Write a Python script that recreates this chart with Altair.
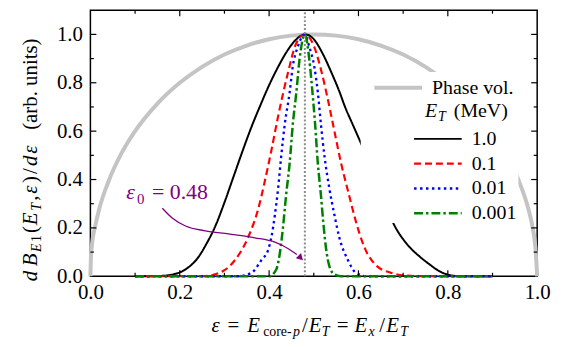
import altair as alt
import pandas as pd

FONT = "Liberation Serif, Times New Roman, Times, serif"

# ---------------- values ----------------
phase_eps = [0.0, 0.001, 0.004, 0.01, 0.02, 0.04, 0.07, 0.1, 0.15, 0.2, 0.25, 0.3, 0.35, 0.4, 0.45,
             0.5, 0.55, 0.6, 0.65, 0.7, 0.75, 0.8, 0.85, 0.9, 0.93, 0.96, 0.98, 0.99, 0.996, 1.0]
phase_val = [0.0, 0.07, 0.14, 0.2, 0.28, 0.39, 0.51, 0.6, 0.714, 0.8, 0.866, 0.917, 0.954, 0.98, 0.995,
             1.0, 0.995, 0.98, 0.954, 0.917, 0.866, 0.8, 0.714, 0.6, 0.51, 0.39, 0.28, 0.2, 0.12, 0.0]

series_names = ["1.0", "0.1", "0.01", "0.001"]
series_colors = ["#000000", "#ff0000", "#0000ff", "#008000"]
series_dash = [[1, 0], [7, 4], [2.5, 3.5], [9, 3, 2.5, 3]]
series_width = [2.0, 2.5, 3.0, 2.5]

e1_eps = [0.10, 0.15, 0.18, 0.20, 0.22, 0.24, 0.26, 0.28, 0.30, 0.32, 0.34, 0.36, 0.38, 0.40, 0.42,
          0.44, 0.46, 0.48, 0.50, 0.52, 0.54, 0.557, 0.57, 0.587, 0.609, 0.63, 0.655, 0.68, 0.71,
          0.738, 0.76, 0.78, 0.80, 0.83, 0.90]
e1_val = [0.0, 0.001, 0.006, 0.016, 0.038, 0.075, 0.135, 0.209, 0.305, 0.41, 0.515, 0.615, 0.705, 0.79,
          0.865, 0.93, 0.978, 1.0, 0.98, 0.92, 0.84, 0.765, 0.70, 0.628, 0.535, 0.44, 0.32, 0.212, 0.13,
          0.08, 0.048, 0.022, 0.007, 0.0, 0.0]

e01_eps = [0.10, 0.25, 0.279, 0.30, 0.324, 0.353, 0.376, 0.39, 0.405, 0.42, 0.442, 0.46, 0.48, 0.501,
           0.516, 0.531, 0.546, 0.561, 0.579, 0.594, 0.613, 0.642, 0.672, 0.70, 0.75, 0.90]
e01_val = [0.0, 0.0, 0.008, 0.025, 0.068, 0.161, 0.281, 0.39, 0.52, 0.66, 0.84, 0.96, 1.0, 0.948,
           0.855, 0.735, 0.601, 0.468, 0.335, 0.228, 0.121, 0.041, 0.015, 0.004, 0.0, 0.0]

e001_eps = [0.10, 0.33, 0.361, 0.383, 0.398, 0.405, 0.413, 0.42, 0.427, 0.435, 0.446, 0.453, 0.464,
            0.48, 0.49, 0.501, 0.509, 0.516, 0.524, 0.535, 0.546, 0.557, 0.576, 0.594, 0.62, 0.90]
e001_val = [0.0, 0.0, 0.015, 0.068, 0.11, 0.161, 0.255, 0.361, 0.495, 0.628, 0.761, 0.868, 0.948,
            1.0, 0.948, 0.868, 0.761, 0.628, 0.495, 0.361, 0.255, 0.161, 0.068, 0.015, 0.0, 0.0]

e0001_eps = [0.10, 0.40, 0.416, 0.424, 0.431, 0.438, 0.446, 0.453, 0.461, 0.468, 0.48, 0.49, 0.497,
             0.503, 0.509, 0.516, 0.521, 0.527, 0.535, 0.546, 0.56, 0.90]
e0001_val = [0.0, 0.0, 0.028, 0.095, 0.201, 0.335, 0.468, 0.628, 0.761, 0.895, 1.0, 0.895, 0.761,
             0.628, 0.468, 0.335, 0.228, 0.121, 0.041, 0.008, 0.0, 0.0]

eps0 = [0.48]

arrow_eps = [0.161, 0.183, 0.213, 0.257, 0.309, 0.368, 0.413, 0.442, 0.462]
arrow_val = [0.281, 0.241, 0.208, 0.188, 0.175, 0.159, 0.141, 0.115, 0.090]
arrow_head_eps = [0.469]
arrow_head_val = [0.079]

x_labels = [0.0, 0.2, 0.4, 0.6, 0.8, 1.0]
y_labels = [0.0, 0.2, 0.4, 0.6, 0.8, 1.0]
x_major = [0.2, 0.4, 0.6, 0.8]
x_minor = [0.1, 0.3, 0.5, 0.7, 0.9]
y_major = [0.2, 0.4, 0.6, 0.8, 1.0]
y_minor = [0.1, 0.3, 0.5, 0.7, 0.9]

# ---------------- layout constants ----------------
W, H = 450, 268
MAJ, MIN = 6, 3.5

xs = alt.Scale(domain=[0, 1], nice=False, zero=False)
ys = alt.Scale(domain=[0, 1.1], nice=False, zero=False)

xaxis = alt.Axis(values=x_labels, format=".1f", title=None, ticks=False, domain=False, grid=False,
                 labelFlush=False, labelOverlap=False,
                 labelFont=FONT, labelFontSize=21, labelColor="black", labelPadding=5)
yaxis = alt.Axis(values=y_labels, format=".1f", title=None, ticks=False, domain=False, grid=False,
                 labelFlush=False, labelOverlap=False,
                 labelFont=FONT, labelFontSize=21, labelColor="black", labelPadding=8)


def X(field):
    return alt.X(field, scale=xs, axis=xaxis)


def Y(field):
    return alt.Y(field, scale=ys, axis=yaxis)


# ---------------- tables ----------------
phase_df = pd.DataFrame({"eps": phase_eps, "val": phase_val, "name": ["Phase vol."] * len(phase_eps)})

rows = []
for name, ex, vy in zip(series_names, [e1_eps, e01_eps, e001_eps, e0001_eps],
                        [e1_val, e01_val, e001_val, e0001_val]):
    for a, b in zip(ex, vy):
        rows.append({"eps": a, "val": b, "ET": name})
curves_df = pd.DataFrame(rows)

one = pd.DataFrame({"k": [0]})

# ---------------- layers ----------------
leg_phase = alt.Legend(title=None, orient="none", legendX=284, legendY=68, labelFont=FONT,
                       labelFontSize=20, labelColor="black", symbolType="stroke", symbolSize=2304,
                       symbolStrokeWidth=4, symbolStrokeColor="#c4c4c4", labelOffset=8,
                       clipHeight=20, padding=0)

phase = alt.Chart(phase_df).mark_line(color="#c4c4c4", strokeWidth=4, interpolate="monotone").encode(
    x=X("eps:Q"), y=Y("val:Q"),
    opacity=alt.Opacity("name:N", scale=alt.Scale(domain=["Phase vol."], range=[1]), legend=leg_phase),
)

leg_et = dict(title=None, orient="none", legendX=324.5, legendY=119.6, labelFont=FONT,
              labelFontSize=20, labelColor="black", symbolType="stroke", symbolSize=2304,
              symbolStrokeWidth=2.5, labelOffset=8.5, clipHeight=20, rowPadding=5, padding=0)

curves = alt.Chart(curves_df).mark_line(interpolate="monotone").encode(
    x=X("eps:Q"), y=Y("val:Q"),
    color=alt.Color("ET:N", sort=series_names,
                    scale=alt.Scale(domain=series_names, range=series_colors),
                    legend=alt.Legend(**leg_et)),
    strokeDash=alt.StrokeDash("ET:N", sort=series_names,
                              scale=alt.Scale(domain=series_names, range=series_dash),
                              legend=alt.Legend(**leg_et)),
    strokeWidth=alt.StrokeWidth("ET:N", scale=alt.Scale(domain=series_names, range=series_width),
                                legend=None),
)

vline = alt.Chart(pd.DataFrame({"e": eps0, "y0": [0.0], "y1": [1.1]})).mark_rule(
    color="#8c8c8c", strokeWidth=2, strokeDash=[2, 2]).encode(
    x=X("e:Q"), y=Y("y0:Q"), y2="y1:Q")

box = alt.Chart(pd.DataFrame({"x0": [0.605], "x1": [0.958], "y0": [0.22], "y1": [0.845]})).mark_rect(
    color="white").encode(x=X("x0:Q"), x2="x1:Q", y=Y("y0:Q"), y2="y1:Q")

arrow = alt.Chart(pd.DataFrame({"eps": arrow_eps, "val": arrow_val})).mark_line(
    color="#800080", strokeWidth=1.3, interpolate="monotone").encode(x=X("eps:Q"), y=Y("val:Q"))
head = alt.Chart(pd.DataFrame({"eps": arrow_head_eps, "val": arrow_head_val})).mark_point(
    shape="triangle", filled=True, color="#800080", size=55, angle=135, opacity=1).encode(
    x=X("eps:Q"), y=Y("val:Q"))


def txt(text, x, y, size, italic=False, color="black", angle=None):
    kw = dict(text=text, font=FONT, fontSize=size, fontStyle="italic" if italic else "normal",
              align="left", baseline="alphabetic", color=color)
    if angle is not None:
        kw["angle"] = angle
    return alt.Chart(one).mark_text(**kw).encode(x=alt.value(x), y=alt.value(y))


def ann(text, dx, dy, size, italic=False):
    return alt.Chart(pd.DataFrame({"x": [0.08], "y": [0.32]})).mark_text(
        text=text, font=FONT, fontSize=size, fontStyle="italic" if italic else "normal",
        align="left", baseline="alphabetic", color="#800080", dx=dx, dy=dy).encode(
        x=X("x:Q"), y=Y("y:Q"))


text_layers = []
# epsilon_0 annotation
text_layers += [ann("ε", 0, 0, 22, True), ann("0", 11, 5, 15), ann("= 0.48", 26, 0, 22)]

# legend header  E_T (MeV)
text_layers += [txt("E", 337, 108, 20, True), txt("T", 350, 112, 14, True), txt("(MeV)", 366, 108, 20)]

# x axis title
xt = [("ε", True, 21, 213, 0), ("=", False, 21, 229, 0), ("E", True, 21, 249, 0),
      ("core-", False, 14, 265, 4), ("p", True, 14, 295, 4), ("/", False, 21, 304, 0),
      ("E", True, 21, 311, 0), ("T", True, 14, 324, 4), ("=", False, 21, 339, 0),
      ("E", True, 21, 357, 0), ("x", True, 14, 371, 4), ("/", False, 21, 382, 0),
      ("E", True, 21, 389, 0), ("T", True, 14, 403, 4)]
for t, it, sz, px, dy in xt:
    text_layers.append(txt(t, px - 91, 324 + dy, sz, it))

# y axis title (rotated, reads upward)
yt = [("d", True, 21, 15, 0), ("B", True, 21, 14.5, 0), ("E", True, 14, 10, 4), ("1", False, 14, 9, 4),
      ("(", False, 21, 8, 0), ("E", True, 21, 14.5, 0), ("T", True, 14, 10, 4), (",", False, 21, 7, 0),
      ("ε", True, 21, 11, 0), (")", False, 21, 9, 0), ("/", False, 21, 8, 0), ("d", True, 21, 12.5, 0),
      ("ε", True, 21, 24, 0), ("(arb. units)", False, 21, 0, 0)]
pos = 273
for t, it, sz, adv, sh in yt:
    text_layers.append(txt(t, -54 + sh, pos, sz, it, angle=270))
    pos -= adv


# inward ticks on all four sides
def tick_layers():
    out = []
    for vals, L in [(x_major, MAJ), (x_minor, MIN)]:
        d = pd.DataFrame({"t": vals})
        out.append(alt.Chart(d).mark_rule(color="black", strokeWidth=1.2).encode(
            x=X("t:Q"), y=alt.value(H), y2=alt.value(H - L)))
        out.append(alt.Chart(d).mark_rule(color="black", strokeWidth=1.2).encode(
            x=X("t:Q"), y=alt.value(0), y2=alt.value(L)))
    for vals, L in [(y_major, MAJ), (y_minor, MIN)]:
        d = pd.DataFrame({"t": vals})
        out.append(alt.Chart(d).mark_rule(color="black", strokeWidth=1.2).encode(
            y=Y("t:Q"), x=alt.value(0), x2=alt.value(L)))
        out.append(alt.Chart(d).mark_rule(color="black", strokeWidth=1.2).encode(
            y=Y("t:Q"), x=alt.value(W), x2=alt.value(W - L)))
    return out


chart = alt.layer(phase, curves, vline, box, arrow, head, *tick_layers(), *text_layers).properties(
    width=W, height=H,
    autosize=alt.AutoSizeParams(type="none"),
    padding={"left": 83, "top": 1, "right": 25, "bottom": 68},
    background="white",
).configure_view(stroke="black", strokeWidth=1.5)

chart.save("out.html", embed_options={"renderer": "svg", "actions": False})
